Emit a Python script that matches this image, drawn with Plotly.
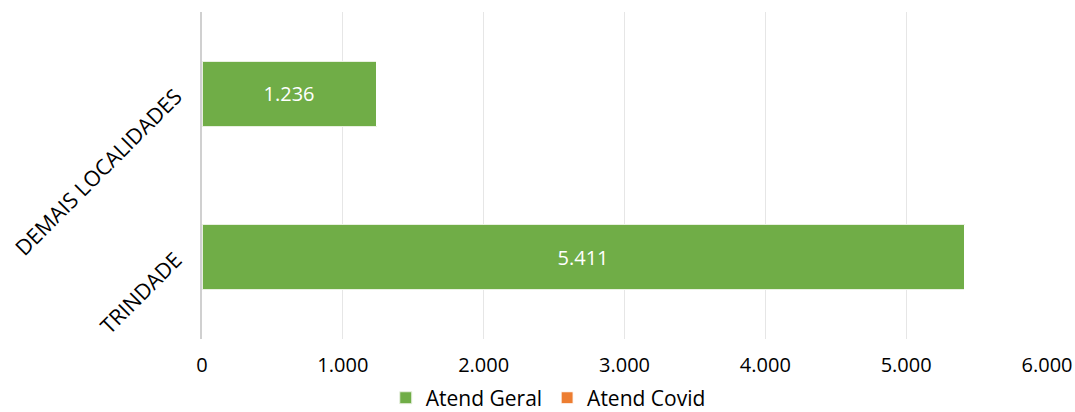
import plotly.graph_objects as go

categories = ["TRINDADE", "DEMAIS LOCALIDADES"]
atend_geral = [5411, 1236]
atend_covid = [0, 0]
tick_vals = [0, 1000, 2000, 3000, 4000, 5000, 6000]
tick_text = ["0", "1.000", "2.000", "3.000", "4.000", "5.000", "6.000"]

def fmt(v):
    return f"{v:,}".replace(",", ".")

FONT = "Open Sans"

fig = go.Figure()
fig.add_trace(go.Bar(
    y=categories, x=atend_geral, orientation="h", name="Atend Geral",
    marker=dict(color="#70AD47", line=dict(color="#E8F0E0", width=1)),
    text=[fmt(v) for v in atend_geral], textposition="inside",
    insidetextanchor="middle", textfont=dict(color="white", size=20, family=FONT),
))
fig.add_trace(go.Bar(
    y=categories, x=atend_covid, orientation="h", name="Atend Covid",
    marker=dict(color="#ED7D31", line=dict(color="#FFFFFF", width=1)),
))

fig.update_layout(
    barmode="stack", bargap=0.6,
    width=1075, height=412,
    margin=dict(l=202, r=28, t=12, b=73, autoexpand=False),
    plot_bgcolor="white", paper_bgcolor="white",
    font=dict(family=FONT, size=20, color="#000000"),
    legend=dict(orientation="h", xref="container", yref="paper",
                x=0.51, xanchor="center", y=-0.118, yanchor="top",
                font=dict(size=21, family=FONT), traceorder="normal",
                itemwidth=30),
    showlegend=True,
)
fig.update_xaxes(range=[0, 6000], tickvals=tick_vals, ticktext=tick_text,
                 showgrid=True, gridcolor="#E6E6E6", gridwidth=1,
                 zeroline=False, showline=False, ticks="", automargin=False,
                 ticklabeloverflow="allow",
                 tickfont=dict(size=20, family=FONT), ticklabelstandoff=12)
fig.update_yaxes(tickangle=-45, showgrid=False, showline=True,
                 linecolor="#D0D0D0", linewidth=2, ticks="", automargin=False,
                 tickfont=dict(size=21.5, family=FONT), ticklabelstandoff=20)

# remove the default page margin so the figure fills the window exactly
fig.write_html(
    "out.html",
    config={"displayModeBar": False},
    post_script="document.body.style.margin='0';document.body.style.overflow='hidden';",
)
